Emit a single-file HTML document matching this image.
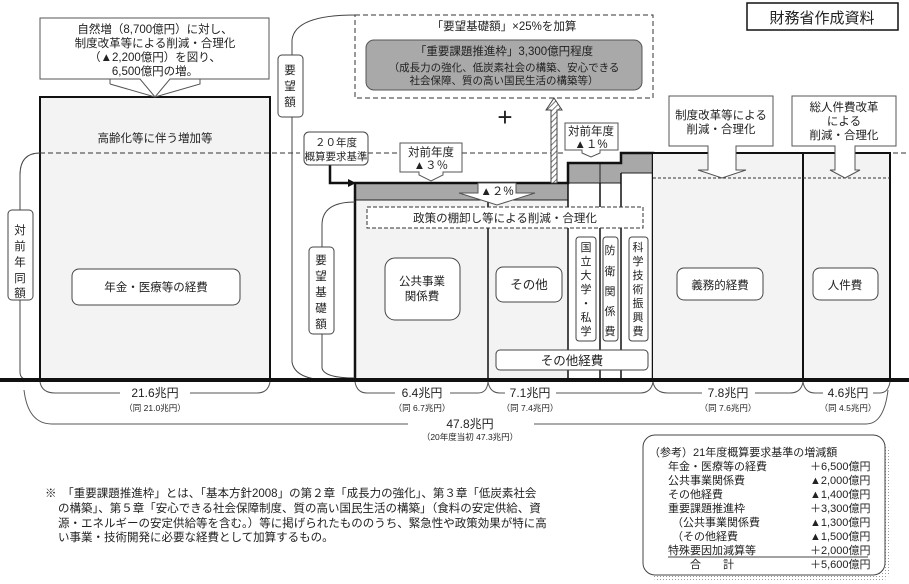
<!DOCTYPE html>
<html><head><meta charset="utf-8"><style>
html,body{margin:0;padding:0;background:#fff;}
svg{display:block;font-family:"Liberation Sans","Noto Sans CJK JP",sans-serif;}
</style></head><body>
<svg width="909" height="584" viewBox="0 0 909 584" xmlns="http://www.w3.org/2000/svg">
<defs>
<pattern id="h" width="4" height="4" patternUnits="userSpaceOnUse" patternTransform="rotate(45)"><rect width="4" height="4" fill="#fff"/><line x1="0" y1="0" x2="0" y2="4" stroke="#555" stroke-width="1.6"/></pattern>
<pattern id="g" width="3" height="3" patternUnits="userSpaceOnUse"><rect width="3" height="3" fill="#fff"/><rect width="1" height="1" fill="#999"/></pattern>
</defs>
<g font-size="11.5" fill="#222" text-anchor="middle">
<rect x="40" y="97" width="230" height="283" fill="#f3f3f3" stroke="#111" stroke-width="2"/>
<text x="155" y="142">高齢化等に伴う増加等</text>
<line x1="40" y1="153" x2="300" y2="153" stroke="#333" stroke-dasharray="5,3"/>
<line x1="368" y1="153" x2="400" y2="153" stroke="#333" stroke-dasharray="5,3"/>
<line x1="462" y1="153" x2="565" y2="153" stroke="#333" stroke-dasharray="5,3"/>
<line x1="653" y1="153" x2="909" y2="153" stroke="#333" stroke-dasharray="5,3"/>
<rect x="72" y="269" width="168" height="36" rx="7" fill="#fff" stroke="#444"/>
<text x="156" y="291">年金・医療等の経費</text>
<path d="M40 18 H269 V79 H170 L155 97 L140 79 H40 Z" fill="#fff" stroke="#555"/>
<path d="M110 79 V84 M110 84 L155 97 L200 84 V79" fill="none" stroke="#555"/>
<text x="155" y="33">自然増（8,700億円）に対し、</text>
<text x="155" y="47">制度改革等による削減・合理化</text>
<text x="155" y="61">（▲2,200億円）を図り、</text>
<text x="155" y="75">6,500億円の増。</text>
<path d="M40 153 Q20 153 20 175 V210 M20 300 V372 Q20 380 30 380" fill="none" stroke="#444"/>
<rect x="8" y="210" width="25" height="90" rx="4" fill="#fff" stroke="#444"/>
<text x="20" y="234">対</text><text x="20" y="250">前</text><text x="20" y="266">年</text><text x="20" y="282">同</text><text x="20" y="297">額</text>
<path d="M292 55 V40 Q295 15 355 15" fill="none" stroke="#444"/>
<path d="M292 117 V362 Q295 380 330 380" fill="none" stroke="#444"/>
<rect x="278" y="55" width="25" height="62" rx="4" fill="#fff" stroke="#444"/>
<text x="290" y="74">要</text><text x="290" y="90">望</text><text x="290" y="106">額</text>
<rect x="355" y="15" width="298" height="83" fill="#fff" stroke="#333" stroke-dasharray="5,3"/>
<text x="504" y="30">「要望基礎額」×25%を加算</text>
<rect x="366" y="40" width="276" height="50" rx="8" fill="#a9a9a9" stroke="#555"/>
<text x="504" y="55">「重要課題推進枠」3,300億円程度</text>
<text x="504" y="71" font-size="10.5">（成長力の強化、低炭素社会の構築、安心できる</text>
<text x="504" y="84" font-size="10.5">社会保障、質の高い国民生活の構築等）</text>
<text x="505" y="126" font-size="26" font-weight="300">+</text>
<rect x="355" y="183" width="298" height="197" fill="#f3f3f3"/>
<rect x="355" y="183" width="213" height="17" fill="#a8a8a8"/>
<rect x="568" y="163" width="53" height="20" fill="#a8a8a8"/>
<rect x="568" y="183" width="53" height="197" fill="#fff"/>
<rect x="621" y="153" width="32" height="20" fill="#a8a8a8"/>
<rect x="621" y="173" width="32" height="207" fill="#fff"/>
<line x1="600" y1="163" x2="600" y2="183" stroke="#222"/>
<line x1="568" y1="183" x2="621" y2="183" stroke="#222"/>
<line x1="621" y1="173" x2="653" y2="173" stroke="#222"/>
<line x1="355" y1="200" x2="568" y2="200" stroke="#222"/>
<path d="M355 380 V183 H568 V163 H621 V153 H653 V380" fill="none" stroke="#111" stroke-width="2.5"/>
<line x1="488" y1="200" x2="488" y2="380" stroke="#111" stroke-width="1.5"/>
<line x1="568" y1="183" x2="568" y2="380" stroke="#111" stroke-width="1.5"/>
<line x1="600" y1="183" x2="600" y2="380" stroke="#111" stroke-width="1.5"/>
<line x1="621" y1="173" x2="621" y2="380" stroke="#111" stroke-width="1.5"/>
<rect x="367" y="207" width="276" height="21" fill="#fff" stroke="#333" stroke-dasharray="4,2"/>
<text x="505" y="222">政策の棚卸し等による削減・合理化</text>
<path d="M551 183 V110 H546 L554 98 L562 110 H557 V183 Z" fill="url(#h)" stroke="#444"/>
<path d="M330 165 V183 H350" fill="none" stroke="#111" stroke-width="2.5"/>
<path d="M348 179 L356 183 L348 187 Z" fill="#111"/>
<rect x="304" y="132" width="64" height="33" rx="5" fill="#fff" stroke="#444"/>
<text x="336" y="146" font-size="10.5">２０年度</text>
<text x="336" y="160" font-size="10.5">概算要求基準</text>
<path d="M400 143 H462 V172 H443 V175 L431 181 L419 175 V172 H400 Z" fill="#fff" stroke="#555"/>
<text x="431" y="156">対前年度</text><text x="431" y="169">▲３％</text>
<path d="M565 123 H618 V150 H600 V153 L591 157 L582 153 V150 H565 Z" fill="#fff" stroke="#555"/>
<text x="591" y="135">対前年度</text><text x="591" y="148">▲１%</text>
<path d="M478 183 H516 V193 H535 L497 205 L459 193 H478 Z" fill="#fff" stroke="#555"/>
<text x="497" y="195">▲２%</text>
<path d="M355 202 Q322 202 322 225 V247 M322 334 V368 Q324 378 355 378" fill="none" stroke="#444"/>
<rect x="309" y="247" width="25" height="87" rx="4" fill="#fff" stroke="#444"/>
<text x="321" y="264">要</text><text x="321" y="280">望</text><text x="321" y="296">基</text><text x="321" y="312">礎</text><text x="321" y="328">額</text>
<rect x="385" y="258" width="75" height="62" rx="10" fill="#fff" stroke="#444"/>
<text x="422" y="285">公共事業</text><text x="422" y="300">関係費</text>
<rect x="496" y="267" width="66" height="35" rx="7" fill="#fff" stroke="#444"/>
<text x="529" y="289" font-size="12.5">その他</text>
<rect x="576" y="237" width="20" height="104" rx="3" fill="#fff" stroke="#444"/>
<g font-size="11"><text x="586" y="251">国</text><text x="586" y="265">立</text><text x="586" y="279">大</text><text x="586" y="293">学</text><text x="586" y="307">・</text><text x="586" y="321">私</text><text x="586" y="335">学</text></g>
<rect x="603" y="237" width="15" height="104" rx="3" fill="#fff" stroke="#444"/>
<g font-size="11"><text x="610" y="254">防</text><text x="610" y="275">衛</text><text x="610" y="295">関</text><text x="610" y="315">係</text><text x="610" y="335">費</text></g>
<rect x="629" y="237" width="19" height="104" rx="3" fill="#fff" stroke="#444"/>
<g font-size="11"><text x="638" y="251">科</text><text x="638" y="265">学</text><text x="638" y="279">技</text><text x="638" y="293">術</text><text x="638" y="307">振</text><text x="638" y="321">興</text><text x="638" y="335">費</text></g>
<rect x="496" y="350" width="152" height="20" rx="4" fill="#fff" stroke="#444"/>
<text x="572" y="365" font-size="12.5">その他経費</text>
<rect x="653" y="153" width="237" height="227" fill="#f3f3f3"/>
<path d="M653 153 H890 V380 M803 153 V380" fill="none" stroke="#111" stroke-width="2"/>
<line x1="653" y1="178" x2="890" y2="178" stroke="#333" stroke-dasharray="3,2"/>
<rect x="677" y="268" width="86" height="32" rx="7" fill="#fff" stroke="#444"/>
<text x="720" y="289">義務的経費</text>
<rect x="813" y="268" width="65" height="32" rx="7" fill="#fff" stroke="#444"/>
<text x="845" y="289">人件費</text>
<path d="M669 96 H773 V146 H736 V170 H746 L722 178 L698 170 H708 V146 H669 Z" fill="#fff" stroke="#555"/>
<text x="721" y="119">制度改革等による</text><text x="721" y="133">削減・合理化</text>
<path d="M792 96 H896 V146 H855 V170 H860 L845 178 L830 170 H835 V146 H792 Z" fill="#fff" stroke="#555"/>
<text x="844" y="111">総人件費改革</text><text x="844" y="125">による</text><text x="844" y="139">削減・合理化</text>
<rect x="747" y="3" width="151" height="27" fill="#fff" stroke="#111" stroke-width="1.5"/>
<text x="822" y="23" font-size="15">財務省作成資料</text>
<line x1="0" y1="380" x2="909" y2="380" stroke="#111" stroke-width="4"/>
<g fill="none" stroke="#555">
<path d="M40 382 Q42 393 55 393 H120 M190 393 H257 Q268 393 270 382"/>
<path d="M355 382 Q357 393 367 393 H395 M450 393 H478 Q487 393 488 382"/>
<path d="M488 382 Q490 393 500 393 H505 M556 393 H640 Q651 393 653 382"/>
<path d="M653 382 Q655 393 668 393 H702 M755 393 H790 Q801 393 803 382"/>
<path d="M803 382 Q805 393 815 393 H823 M873 393 H880 Q888 393 890 382"/>
<path d="M24 390 Q28 424 52 424 H408 M534 424 H866 Q884 424 888 390"/>
</g>
<g font-size="12"><text x="155" y="397">21.6兆円</text><text x="422" y="397">6.4兆円</text><text x="530" y="397">7.1兆円</text><text x="728" y="397">7.8兆円</text><text x="848" y="397">4.6兆円</text><text x="470" y="428">47.8兆円</text></g>
<g font-size="8.5"><text x="155" y="411">（同 21.0兆円）</text><text x="422" y="411">（同 6.7兆円）</text><text x="530" y="411">（同 7.4兆円）</text><text x="728" y="411">（同 7.6兆円）</text><text x="848" y="411">（同 4.5兆円）</text><text x="470" y="440">（20年度当初 47.3兆円）</text></g>
</g>
<g font-size="11.5" fill="#222">
<text x="45" y="497">※　「重要課題推進枠」とは、「基本方針2008」の第２章「成長力の強化」、第３章「低炭素社会</text>
<text x="58" y="512">の構築」、第５章「安心できる社会保障制度、質の高い国民生活の構築」（食料の安定供給、資</text>
<text x="58" y="527">源・エネルギーの安定供給等を含む。）等に掲げられたもののうち、緊急性や政策効果が特に高</text>
<text x="58" y="541">い事業・技術開発に必要な経費として加算するもの。</text>
</g>
<rect x="650" y="442" width="240" height="140" rx="12" fill="url(#g)"/>
<rect x="643" y="435" width="242" height="140" rx="12" fill="#fff" stroke="#444"/>
<g font-size="11" fill="#222">
<text x="649" y="456">（参考）21年度概算要求基準の増減額</text>
<text x="668" y="470">年金・医療等の経費</text><text x="810" y="470">＋6,500億円</text>
<text x="668" y="484">公共事業関係費</text><text x="810" y="484">▲2,000億円</text>
<text x="668" y="498">その他経費</text><text x="810" y="498">▲1,400億円</text>
<text x="668" y="512">重要課題推進枠</text><text x="810" y="512">＋3,300億円</text>
<text x="672" y="526">（公共事業関係費</text><text x="810" y="526">▲1,300億円</text>
<text x="672" y="540">（その他経費</text><text x="810" y="540">▲1,500億円</text>
<text x="668" y="554">特殊要因加減算等</text><text x="810" y="554">＋2,000億円</text>
<text x="690" y="568">合　　計</text><text x="810" y="568">＋5,600億円</text>
</g>
<line x1="668" y1="557" x2="868" y2="557" stroke="#444"/>
</svg>
</body></html>
